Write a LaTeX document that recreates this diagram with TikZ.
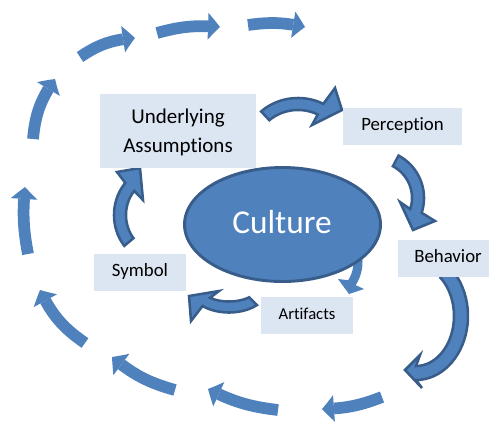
\documentclass[tikz,border=0pt]{standalone}
\usepackage{fontspec}
\setmainfont{Carlito}[Ligatures={NoCommon}]
\usetikzlibrary{arrows.meta,bending,shapes.geometric}
\definecolor{acc}{RGB}{79,129,189}
\definecolor{accd}{RGB}{56,93,138}
\definecolor{boxc}{RGB}{220,230,242}
% curved block arrow: [style]{cx}{cy}{rx}{ry}{tail angle}{head angle}{shaft width}{outer wing -- tip -- inner wing}
\newcommand{\carrow}[9][]{%
  \pgfmathsetmacro\cRox{#4+#8/2}\pgfmathsetmacro\cRoy{#5+#8/2}%
  \pgfmathsetmacro\cRix{#4-#8/2}\pgfmathsetmacro\cRiy{#5-#8/2}%
  \path[#1] plot[domain=#6:#7,samples=30] ({#2+\cRox*cos(\x)},{#3+\cRoy*sin(\x)}) -- #9 -- plot[domain=#7:#6,samples=30] ({#2+\cRix*cos(\x)},{#3+\cRiy*sin(\x)}) -- cycle;}
\begin{document}
\begin{tikzpicture}[x=0.75pt,y=-0.75pt,
  inarrow/.style={fill=acc,draw=accd,line width=1.9pt,line join=miter},
  outarrow/.style={draw=acc,line width=8.8pt,-{Triangle[length=9pt,width=20pt,line width=0pt,bend]}},
  boxnode/.style={fill=boxc,inner sep=0pt,text height=0.644em,text depth=0pt},
  midfont/.style={font=\fontsize{14.1pt}{17pt}\selectfont}]
\useasboundingbox (0,0) rectangle (489,425);
% outer dashed cycle of arrows
\coordinate (o1s) at (28,254);  \coordinate (o1e) at (25,187);
\coordinate (o2s) at (33,139);  \coordinate (o2e) at (55,79);
\coordinate (o3s) at (80,57);   \coordinate (o3e) at (135,38);
\coordinate (o4s) at (157,33);  \coordinate (o4e) at (220,27);
\coordinate (o5s) at (248,25);  \coordinate (o5e) at (305,27);
\coordinate (o6s) at (85,343);  \coordinate (o6e) at (40,290);
\coordinate (o7s) at (175,390); \coordinate (o7e) at (112,357);
\coordinate (o8s) at (278,410); \coordinate (o8e) at (208,389);
\coordinate (o9s) at (382,397); \coordinate (o9e) at (322,409);
\draw[outarrow] (o1s) to[bend left=8] (o1e);
\draw[outarrow] (o2s) to[bend left=15] (o2e);
\draw[outarrow] (o3s) to[bend left=15] (o3e);
\draw[outarrow] (o4s) to[bend left=10] (o4e);
\draw[outarrow] (o5s) to[bend left=10] (o5e);
\draw[outarrow] (o6s) to[bend left=15] (o6e);
\draw[outarrow] (o7s) to[bend left=12] (o7e);
\draw[outarrow] (o8s) to[bend left=10] (o8e);
\draw[outarrow] (o9s) to[bend left=10] (o9e);
% Culture -> Artifacts (behind the ellipse)
\carrow[fill=acc]{320}{262}{38}{38}{-17.5}{33}{9}{(364,289) -- (349,294) -- (338,279)}
% Culture ellipse
\node[ellipse,draw=accd,fill=acc,line width=2.2pt,minimum width=147pt,minimum height=85.5pt,inner sep=0pt] (culture) at (282.5,224.5) {};
\node[anchor=base,text=white,font=\fontsize{25pt}{30pt}\selectfont] (culturelbl) at (282,233) {Culture};
% inner cycle arrows
\carrow[inarrow]{298}{148}{48}{44}{-133}{-62}{12}{(335,88) -- (342,110) -- (312,125)}
\carrow[inarrow]{376}{198}{42}{42}{-62}{18}{12}{(435,221) -- (413,230) -- (400,202)}
\carrow[inarrow]{416}{316}{45}{57}{-50}{90}{14}{(422,388) -- (405,370) -- (420,355)}
\carrow[inarrow]{229}{287}{34}{20}{45}{132}{11}{(191,321) -- (189,296) -- (219,291)}
\carrow[inarrow]{158}{215}{38}{42}{140}{222}{12}{(117,172) -- (140,168) -- (143,200)}
% boxes
\node[boxnode,minimum width=117pt,minimum height=55.5pt] (ua) at (178,131) {};
\node[anchor=base,font=\fontsize{15.75pt}{19pt}\selectfont] (ua1) at (178,123) {Underlying};
\node[anchor=base,font=\fontsize{15.75pt}{19pt}\selectfont] (ua2) at (178,152) {Assumptions};
\node[boxnode,midfont,minimum width=89.25pt,minimum height=27.75pt] (perc) at (402.5,126.5) {Perception};
\node[boxnode,midfont,minimum width=75pt,minimum height=27.75pt] (beh) at (448,258.5) {Behavior};
\node[boxnode,midfont,minimum width=69pt,minimum height=27.75pt] (sym) at (140,272.5) {Symbol};
\node[boxnode,font=\fontsize{12.5pt}{15pt}\selectfont,minimum width=69pt,minimum height=27.75pt] (art) at (307,315.5) {Artifacts};
\end{tikzpicture}
\end{document}
